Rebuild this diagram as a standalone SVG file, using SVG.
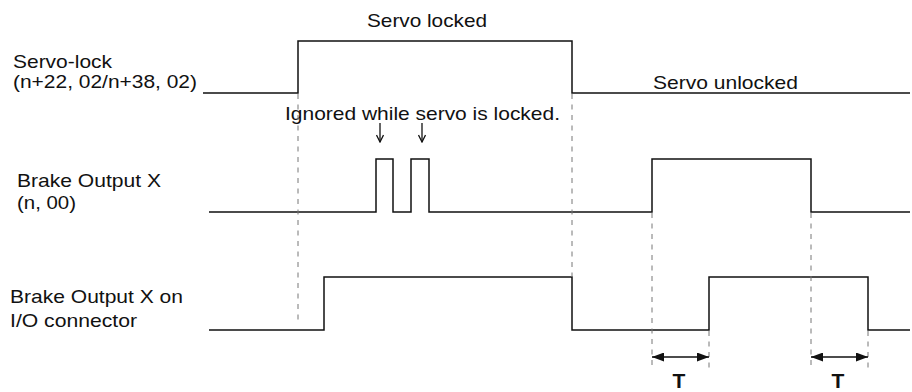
<svg xmlns="http://www.w3.org/2000/svg" width="912" height="392" viewBox="0 0 912 392">
<defs>
<style>
.lbl{font-family:"Liberation Sans",Arial,Helvetica,sans-serif;font-size:18.5px;fill:#111}
.big{font-family:"Liberation Sans",Arial,Helvetica,sans-serif;font-size:21px;font-weight:bold;fill:#111}
.wave{fill:none;stroke:#111;stroke-width:1.5}
.dash{fill:none;stroke:#777;stroke-width:1;stroke-dasharray:5 5.5}
.arr{fill:none;stroke:#111;stroke-width:1.6}
.dn{fill:none;stroke:#111;stroke-width:1.3}
</style>
<marker id="hd" viewBox="0 0 12 9" refX="12" refY="4.5" markerWidth="12" markerHeight="9" markerUnits="userSpaceOnUse" orient="auto-start-reverse">
<path d="M0 0 L12 4.5 L0 9 Z" fill="#111"/>
</marker>
<marker id="vh" viewBox="0 0 8 10" refX="4" refY="9" markerWidth="8" markerHeight="10" markerUnits="userSpaceOnUse" orient="0">
<path d="M0.5 2 L4 9 L7.5 2" fill="none" stroke="#111" stroke-width="1.3"/>
</marker>
</defs>
<rect width="912" height="392" fill="#fff"/>
<g id="servo-lock">
<text class="lbl" x="13" y="68" textLength="99" lengthAdjust="spacingAndGlyphs">Servo-lock</text>
<text class="lbl" x="13" y="87.5" textLength="184" lengthAdjust="spacingAndGlyphs">(n+22, 02/n+38, 02)</text>
<path class="wave" d="M203 93 H298 V41 H572 V93 H910"/>
<text class="lbl" x="367" y="27" textLength="120" lengthAdjust="spacingAndGlyphs">Servo locked</text>
<text class="lbl" x="653" y="89" textLength="145" lengthAdjust="spacingAndGlyphs">Servo unlocked</text>
</g>
<g id="brake-output">
<text class="lbl" x="17" y="187" textLength="144" lengthAdjust="spacingAndGlyphs">Brake Output X</text>
<text class="lbl" x="17" y="208.5" textLength="59" lengthAdjust="spacingAndGlyphs">(n, 00)</text>
<path class="wave" d="M209 212 H376 V159 H393 V212 H411 V159 H429 V212 H652 V159 H811 V212 H910"/>
<text class="lbl" x="285" y="120" textLength="275" lengthAdjust="spacingAndGlyphs">Ignored while servo is locked.</text>
</g>
<g id="brake-io">
<text class="lbl" x="10" y="302.7" textLength="173" lengthAdjust="spacingAndGlyphs">Brake Output X on</text>
<text class="lbl" x="10" y="326.7" textLength="127" lengthAdjust="spacingAndGlyphs">I/O connector</text>
<path class="wave" d="M209 330 H324 V277 H572 V330 H709 V277 H868 V330 H910"/>
</g>
<g id="connectors">
<path class="dash" d="M298 94 V325"/>
<path class="dash" d="M572 94 V277"/>
<path class="dash" d="M652 213 V368"/>
<path class="dash" d="M811 213 V368"/>
<path class="dash" d="M709 331 V368"/>
<path class="dash" d="M868 331 V368"/>
<path class="dn" d="M380 123 V142" marker-end="url(#vh)"/>
<path class="dn" d="M422 123 V142" marker-end="url(#vh)"/>
<path class="arr" d="M652 357 H709" marker-start="url(#hd)" marker-end="url(#hd)"/>
<path class="arr" d="M811 357 H868" marker-start="url(#hd)" marker-end="url(#hd)"/>
<text class="big" x="679" y="387.5" text-anchor="middle">T</text>
<text class="big" x="838" y="387.5" text-anchor="middle">T</text>
</g>
</svg>
